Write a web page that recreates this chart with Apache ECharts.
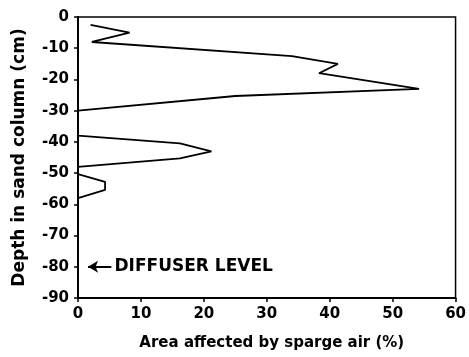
<!DOCTYPE html>
<html>
<head>
<meta charset="utf-8">
<script src="https://cdn.jsdelivr.net/npm/echarts@6/dist/echarts.min.js"></script>
<style>
  html, body {margin: 0; padding: 0; background: #fff;}
  #chart {width: 469px; height: 357px;}
</style>
</head>
<body>
<div id="chart"></div>
<script>
// area affected (%) and depth (cm) from top to bottom
const area = [2, 8.2, 2.2, 34, 41.3, 38.3, 54.2, 25, 0, 0, 16.2, 21.2, 16.2, 0, 0, 4.3, 4.3, 0];
const depth = [-2.5, -5, -8, -12.5, -15, -18, -23, -25.3, -30, -38, -40.5, -43, -45.3, -48, -50.3, -52.8, -55.4, -58];
const xTicks = [0, 10, 20, 30, 40, 50, 60];
const yTicks = [0, -10, -20, -30, -40, -50, -60, -70, -80, -90];
const diffuserDepth = -80;
const diffuserLabel = 'DIFFUSER LEVEL';

const font = 'DejaVu Sans, sans-serif';
const myChart = echarts.init(document.getElementById('chart'));

const points = area.map((a, i) => [a, depth[i]]);

const axisLine = {show: true, onZero: false, lineStyle: {color: '#000', width: 2}};

myChart.setOption({
    animation: false,
    grid: {left: 78, right: 12, top: 17, bottom: 59, show: true, borderColor: '#000', borderWidth: 1.5},
    xAxis: {
        type: 'value',
        min: xTicks[0],
        max: xTicks[xTicks.length - 1],
        interval: 10,
        name: 'Area affected by sparge air (%)',
        nameLocation: 'middle',
        nameGap: 38,
        nameTextStyle: {color: '#000', fontFamily: font, fontWeight: 'bold', fontSize: 15, padding: [0, 0, 0, 10]},
        axisLine: axisLine,
        axisTick: {show: true, inside: false, length: 4, lineStyle: {color: '#000', width: 1.5}},
        axisLabel: {color: '#000', fontFamily: font, fontWeight: 'bold', fontSize: 15, margin: 9},
        splitLine: {show: false}
    },
    yAxis: {
        type: 'value',
        min: yTicks[yTicks.length - 1],
        max: yTicks[0],
        interval: 10,
        name: 'Depth in sand column (cm)',
        nameLocation: 'middle',
        nameGap: 50,
        nameTextStyle: {color: '#000', fontFamily: font, fontWeight: 'bold', fontSize: 17},
        axisLine: axisLine,
        axisTick: {show: true, inside: false, length: 4, lineStyle: {color: '#000', width: 1.5}},
        axisLabel: {color: '#000', fontFamily: font, fontWeight: 'bold', fontSize: 15, margin: 9},
        splitLine: {show: false}
    },
    series: [{
        type: 'line',
        data: points,
        symbol: 'none',
        lineStyle: {color: '#000', width: 1.8},
        markLine: {
            silent: true,
            symbol: ['none', 'arrow'],
            symbolSize: [9, 10],
            lineStyle: {color: '#000', width: 2, type: 'solid'},
            label: {show: false},
            data: [[{coord: [5.3, diffuserDepth]}, {coord: [1.6, diffuserDepth]}]]
        }
    }]
});

const p = myChart.convertToPixel({gridIndex: 0}, [5.8, diffuserDepth]);
myChart.setOption({
    graphic: [{
        type: 'text',
        x: p[0],
        y: p[1],
        style: {
            text: diffuserLabel,
            fill: '#000',
            font: 'bold 17px ' + font,
            verticalAlign: 'middle',
            align: 'left'
        }
    }]
});
</script>
</body>
</html>
